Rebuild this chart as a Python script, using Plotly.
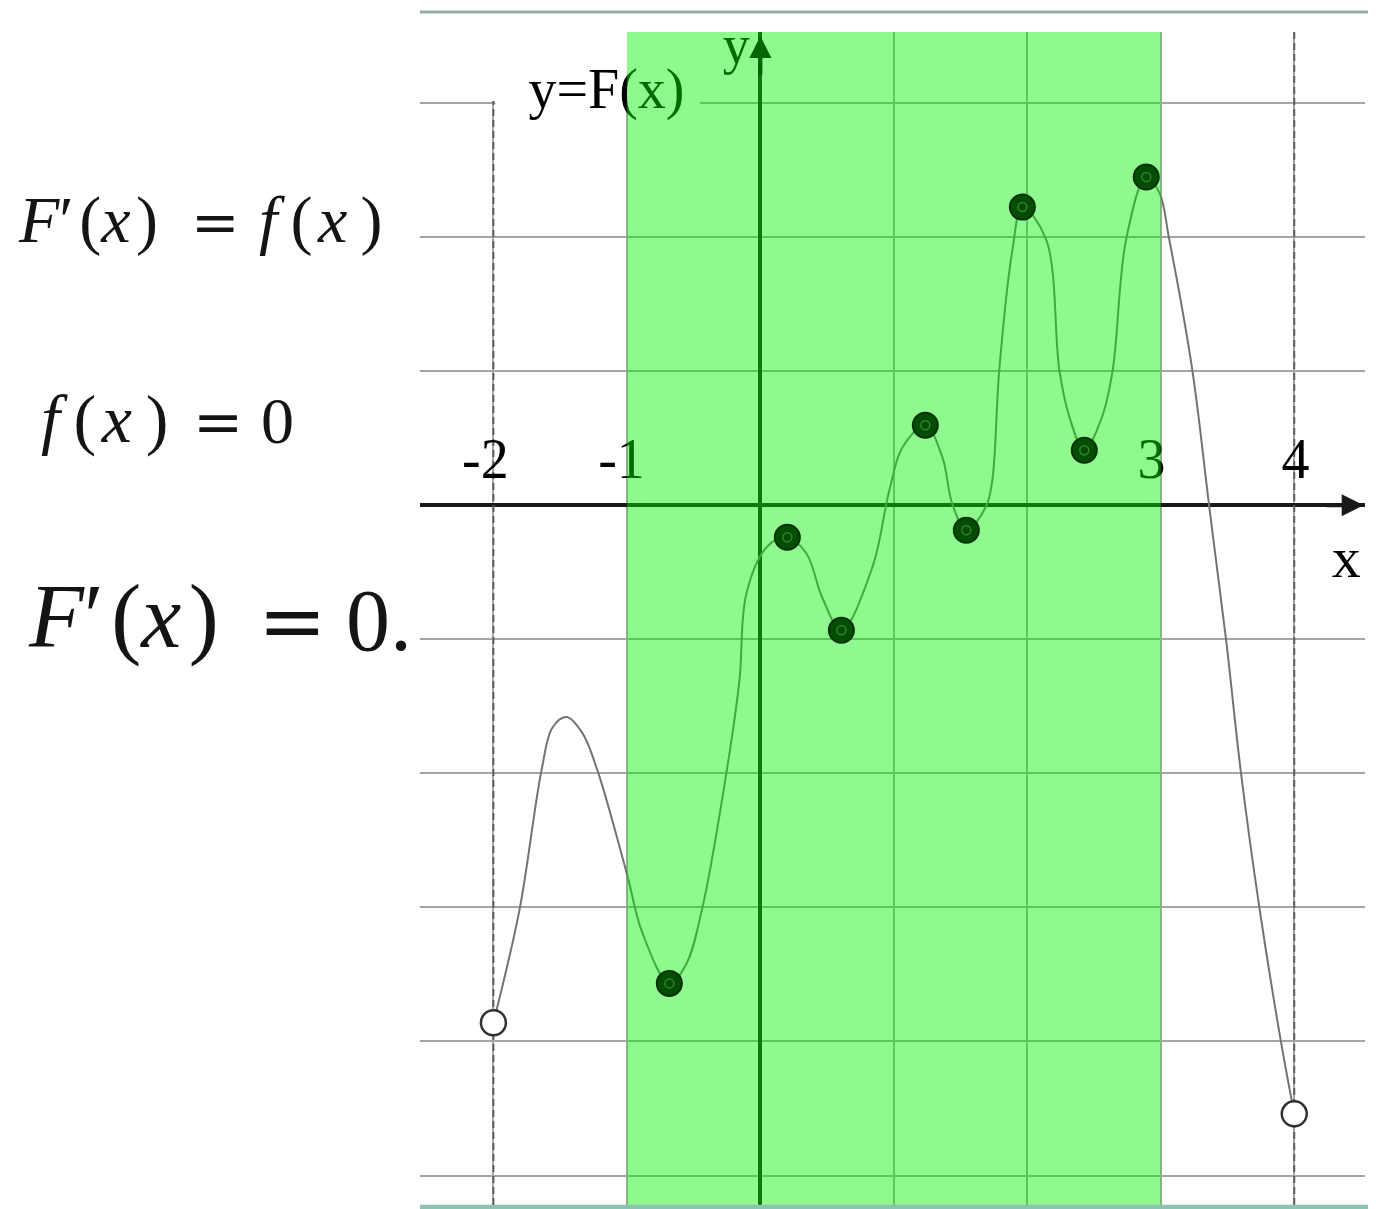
import plotly.graph_objects as go

# y = F(x)
curve_x = [-2.0, -1.805, -1.64, -1.558, -1.453, -1.333, -1.22, -1.0, -0.884, -0.682,
           -0.554, -0.434, -0.255, -0.157, -0.105, 0.05, 0.202, 0.345, 0.464, 0.607,
           0.84, 0.966, 1.064, 1.236, 1.363, 1.438, 1.543, 1.69, 1.738, 1.79, 1.888,
           1.963, 2.142, 2.24, 2.315, 2.427, 2.56, 2.64, 2.74, 2.891, 2.99, 3.064,
           3.236, 3.363, 3.49, 3.60, 3.74, 3.90, 4.0]
curve_y = [-3.86, -3.02, -1.98, -1.66, -1.58, -1.70, -1.98, -2.75, -3.19, -3.567,
           -3.42, -3.0, -2.0, -1.31, -0.66, -0.31, -0.239, -0.36, -0.69, -0.933,
           -0.46, 0.11, 0.43, 0.597, 0.36, 0.01, -0.187, -0.01, 0.19, 1.01, 1.90,
           2.224, 1.98, 1.01, 0.66, 0.41, 0.66, 1.01, 1.98, 2.448, 2.33, 1.98,
           1.01, -0.01, -1.01, -1.99, -3.01, -4.0, -4.54]

# points where F'(x) = 0 inside the band
crit_x = [-0.682, 0.202, 0.607, 1.236, 1.543, 1.963, 2.427, 2.891]
crit_y = [-3.567, -0.239, -0.933, 0.597, -0.187, 2.224, 0.41, 2.448]

# open ends of the domain
end_x = [-2, 4]
end_y = [-3.86, -4.54]

band = [-1, 3]

tick_vals = [-2, -1, 3, 4]
tick_text = ['-2', '-1', '3', '4']

x_range = [-2.55, 4.53]
y_range = [-5.22, 3.53]

serif = 'Liberation Serif'
tick_dx = [-0.06, -0.04, -0.07, 0.01]   # labels sit left of the grid line
TS = '\u2009'  # thin space
HS = '\u200a'  # hair space

fig = go.Figure()

# dashed verticals at the ends of the domain
for xv in end_x:
    fig.add_trace(go.Scatter(x=[xv, xv], y=y_range, mode='lines',
                             line=dict(color='rgb(95,95,95)', width=2, dash='7px,4px'),
                             hoverinfo='skip'))

# white patch behind the "y=F(x)" label (hides the grid there)
fig.add_trace(go.Scatter(
    x=[-2.03, -0.45, -0.45, -1.985, -1.985, -2.03, -2.03],
    y=[y_range[1], y_range[1], 2.97, 2.97, 3.015, 3.015, y_range[1]],
    mode='lines', fill='toself', fillcolor='white', line=dict(width=0),
    hoverinfo='skip'))

fig.add_trace(go.Scatter(x=curve_x, y=curve_y, mode='lines',
                         line=dict(color='rgb(115,115,115)', width=2, shape='spline'),
                         hoverinfo='skip'))

# text that lies under the green band
fig.add_trace(go.Scatter(
    x=[t + d for t, d in zip(tick_vals, tick_dx)], y=[0.31] * len(tick_vals),
    text=tick_text, mode='text', textposition='middle center',
    textfont=dict(family=serif, size=56, color='black'), hoverinfo='skip'))
fig.add_trace(go.Scatter(
    x=[-1.153, -0.18, 4.39], y=[3.07, 3.40, -0.43],
    text=['y=F(x)', 'y', 'x'], mode='text', textposition='middle center',
    textfont=dict(family=serif, size=[56, 54, 58], color='black'), hoverinfo='skip'))

# the band, translucent over grid, axes, curve and labels
fig.add_trace(go.Scatter(
    x=[band[0], band[1], band[1], band[0], band[0]],
    y=[y_range[0], y_range[0], y_range[1], y_range[1], y_range[0]],
    mode='lines', fill='toself', fillcolor='rgba(0,239,0,0.44)',
    line=dict(width=0), hoverinfo='skip'))

fig.add_trace(go.Scatter(x=crit_x, y=crit_y, mode='markers',
                         marker=dict(size=25, color='rgb(0,78,0)',
                                     line=dict(color='rgb(0,48,0)', width=2))))
fig.add_trace(go.Scatter(x=crit_x, y=crit_y, mode='markers',
                         marker=dict(size=9, symbol='circle-open', color='rgb(60,125,60)',
                                     line=dict(width=1.5))))
fig.add_trace(go.Scatter(x=end_x, y=end_y, mode='markers',
                         marker=dict(size=25, color='white',
                                     line=dict(color='rgb(50,50,50)', width=2.5))))

# frame lines of the screenshot
fig.add_shape(type='line', xref='paper', yref='paper', x0=0, x1=1.012, y0=1.017, y1=1.017,
              line=dict(color='rgb(150,172,168)', width=3))
fig.add_shape(type='line', xref='paper', yref='paper', x0=0, x1=1.012, y0=-0.002, y1=-0.002,
              line=dict(color='rgb(140,195,180)', width=5))

# axis arrows
fig.add_annotation(x=x_range[1] - 0.01, y=0, ax=x_range[1] - 0.3, ay=0, axref='x', ayref='y',
                   text='', showarrow=True, arrowhead=2, arrowsize=1.1, arrowwidth=4,
                   arrowcolor='rgb(25,25,25)')
fig.add_annotation(x=0, y=3.50, ax=0, ay=3.2, axref='x', ayref='y',
                   text='', showarrow=True, arrowhead=2, arrowsize=1.1, arrowwidth=4,
                   arrowcolor='rgb(0,100,0)')

# formulas on the left: (text, left px, centre px, size, font)
lhs_big = '<i>F</i>′' + HS + '(<i>x</i>' + HS + ')'
lhs_small = '<i>f</i>' + TS + '(' + HS + '<i>x</i>' + TS + ')'
formulas = [
    (lhs_big, 17, 220, 66, serif),
    ('=', 190, 222, 58, 'DejaVu Serif'),
    (lhs_small, 258, 220, 66, serif),
    (lhs_small, 40, 419, 68, serif),
    ('=', 192, 421, 60, 'DejaVu Serif'),
    ('0', 260, 421, 66, serif),
    (lhs_big, 27, 617, 90, serif),
    ('=', 257, 620, 82, 'DejaVu Serif'),
    ('0.', 345, 620, 88, serif),
]
for txt, px, py, size, fam in formulas:
    fig.add_annotation(text=txt, xref='paper', yref='paper',
                       x=(px - 420) / 945, y=(1205 - py) / 1173,
                       xanchor='left', yanchor='middle', showarrow=False, borderpad=0,
                       font=dict(family=fam, size=size, color='rgb(20,20,20)'))

axis_style = dict(showgrid=True, gridcolor='rgb(165,165,165)', gridwidth=2, dtick=1, tick0=0,
                  zeroline=True, zerolinecolor='rgb(25,25,25)', zerolinewidth=4,
                  showticklabels=False, ticks='', showline=False)
fig.update_xaxes(range=x_range, **axis_style)
fig.update_yaxes(range=y_range, **axis_style)

# the page adds an 8px body margin, so the plot area lands at x 420..1365, y 32..1205
fig.update_layout(width=1376, height=1209, margin=dict(l=412, r=19, t=24, b=12),
                  plot_bgcolor='white', paper_bgcolor='white', showlegend=False)

fig.write_html("out.html")
